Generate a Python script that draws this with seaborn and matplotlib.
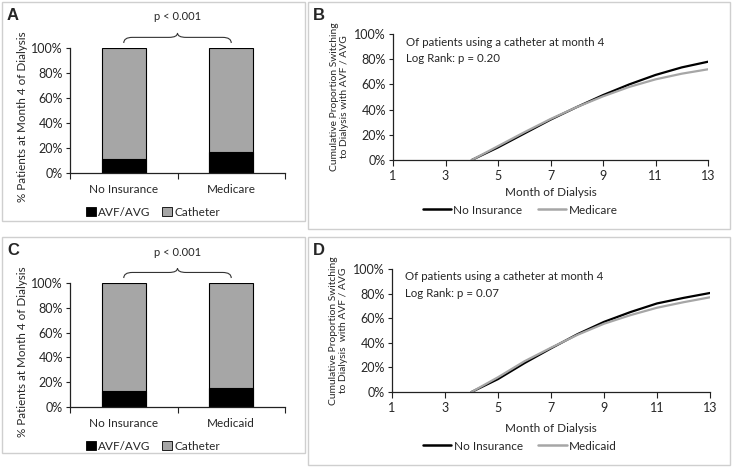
import matplotlib
matplotlib.use("Agg")
import matplotlib.pyplot as plt
import seaborn as sns
import pandas as pd
from matplotlib.patches import Rectangle, PathPatch
from matplotlib.path import Path
from matplotlib.lines import Line2D
from matplotlib.ticker import FuncFormatter

# ---------------- data ----------------
bar_groups_A = ["No Insurance", "Medicare"]
avf_A = [11.5, 17.0]
bar_groups_C = ["No Insurance", "Medicaid"]
avf_C = [13.0, 15.5]

months = [4, 5, 6, 7, 8, 9, 10, 11, 12, 13]
B_no_ins = [0, 10, 21, 32, 42, 51.5, 60, 67.5, 73.5, 78]
B_medicare = [0, 11, 22, 32.5, 42, 50.5, 58, 64, 68.5, 72]
D_no_ins = [0, 10.5, 23.5, 35.5, 47, 57, 65, 72, 76.5, 80.5]
D_medicaid = [0, 12, 25, 36, 46.5, 55.5, 62.5, 68.5, 73, 77]

p_text_bar = "p < 0.001"
B_note = "Of patients using a catheter at month 4\nLog Rank: p = 0.20"
D_note = "Of patients using a catheter at month 4\nLog Rank: p = 0.07"
B_ylabel = "Cumulative Proportion Switching\nto Dialysis with AVF / AVG"
D_ylabel = "Cumulative Proportion Switching\nto Dialysis  with AVF / AVG"

# ---------------- style ----------------
sns.set_theme(style="white")
plt.rcParams['font.family'] = ['Lato', 'DejaVu Sans']
FS = 8.5
TICK_FS = 9
GRAY = "#a6a6a6"
AX_COL = "#222222"

W, H = 733, 467
fig = plt.figure(figsize=(W / 100, H / 100), dpi=100)


def fx(x):
    return x / W


def fy(y):
    return 1 - y / H


def ax_px(l, t, r, b):
    return fig.add_axes([l / W, 1 - b / H, (r - l) / W, (b - t) / H])


def panel_box(l, t, r, b, letter):
    fig.patches.append(Rectangle((fx(l), fy(b)), fx(r - l), (b - t) / H,
                                 transform=fig.transFigure, fill=False,
                                 edgecolor="#cfcfcf", linewidth=1.0))
    fig.text(fx(l + 5), fy(t + 13), letter, fontsize=12, fontweight="bold",
             ha="left", va="center", family="Liberation Sans")


pct = FuncFormatter(lambda v, p: f"{int(v)}%")


def style_axes(ax):
    for s in ["top", "right"]:
        ax.spines[s].set_visible(False)
    for s in ["left", "bottom"]:
        ax.spines[s].set_color(AX_COL)
        ax.spines[s].set_linewidth(0.9)
    ax.set_ylim(0, 100)
    ax.set_yticks(range(0, 101, 20))
    ax.yaxis.set_major_formatter(pct)
    ax.tick_params(axis="y", direction="out", length=3, width=0.8,
                   color=AX_COL, labelsize=TICK_FS, pad=2, left=True)


def bar_panel(l, t, r, b, groups, avf, legend_y):
    ax = ax_px(l, t, r, b)
    df = pd.DataFrame({"group": groups, "avf": avf, "total": [100] * len(groups)})
    sns.barplot(data=df, x="group", y="total", color=GRAY, width=0.41,
                edgecolor="black", linewidth=0.8, ax=ax, saturation=1)
    sns.barplot(data=df, x="group", y="avf", color="black", width=0.41,
                edgecolor="black", linewidth=0.8, ax=ax, saturation=1)
    style_axes(ax)
    ax.set_xlim(-0.5, 1.5)
    ax.set_xlabel("")
    ax.set_ylabel("% Patients at Month 4 of Dialysis", fontsize=8.4, labelpad=4)
    ax.yaxis.set_label_coords(-0.195, 0.45)
    ax.tick_params(axis="x", which="major", length=0, labelsize=FS, pad=8)
    ax.set_xticks([-0.5, 0.5, 1.5], minor=True)
    ax.tick_params(axis="x", which="minor", direction="out", length=4,
                   width=0.8, color=AX_COL, bottom=True)
    # curly brace
    y0, ym, yp = 104, 108.5, 112
    verts = [(0, y0), (0, ym), (0.08, ym),
             (0.42, ym), (0.5, ym), (0.5, yp),
             (0.5, ym), (0.58, ym),
             (0.92, ym), (1, ym), (1, y0)]
    codes = [Path.MOVETO, Path.CURVE3, Path.CURVE3,
             Path.LINETO, Path.CURVE3, Path.CURVE3,
             Path.CURVE3, Path.CURVE3,
             Path.LINETO, Path.CURVE3, Path.CURVE3]
    ax.add_patch(PathPatch(Path(verts, codes), fill=False, edgecolor="#333333",
                           linewidth=0.8, clip_on=False))
    ax.text(0.5, 125, p_text_bar, ha="center", va="center", fontsize=8)
    handles = [Rectangle((0, 0), 1, 1, facecolor="black", edgecolor="black", linewidth=0.6),
               Rectangle((0, 0), 1, 1, facecolor=GRAY, edgecolor="black", linewidth=0.6)]
    fig.legend(handles, ["AVF/AVG", "Catheter"], loc="center",
               bbox_to_anchor=(fx(153), fy(legend_y)), ncol=2, frameon=False,
               fontsize=FS, handlelength=0.85, handleheight=0.85,
               handletextpad=0.15, columnspacing=1.0, borderpad=0)
    return ax


def line_panel(l, t, r, b, s1, s2, name2, note, ylabel, xlabel_y, legend_y):
    ax = ax_px(l, t, r, b)
    df = pd.DataFrame({
        "month": months + months,
        "value": s1 + s2,
        "group": ["No Insurance"] * len(months) + [name2] * len(months),
    })
    sns.lineplot(data=df, x="month", y="value", hue="group",
                 palette={"No Insurance": "black", name2: GRAY},
                 linewidth=1.6, ax=ax, legend=False)
    style_axes(ax)
    ax.set_xlim(1, 13)
    ax.set_xticks(range(1, 14, 2))
    ax.tick_params(axis="x", direction="out", length=4, width=0.8,
                   color=AX_COL, labelsize=TICK_FS, pad=3, bottom=True)
    ax.set_xlabel("")
    ax.set_ylabel(ylabel, fontsize=7.4, labelpad=4, linespacing=1.15)
    fig.text((l + r) / 2 / W, fy(xlabel_y), "Month of Dialysis", ha="center",
             va="center", fontsize=FS)
    ax.text(0.04, 0.98, note, transform=ax.transAxes, ha="left", va="top",
            fontsize=8.3, linespacing=1.6)
    handles = [Line2D([], [], color="black", linewidth=1.8),
               Line2D([], [], color=GRAY, linewidth=1.8)]
    fig.legend(handles, ["No Insurance", name2], loc="center",
               bbox_to_anchor=(fx(520), fy(legend_y)), ncol=2, frameon=False,
               fontsize=FS, handlelength=2.4, handletextpad=0.2,
               columnspacing=1.3, borderpad=0)
    return ax


panel_box(2, 2, 305, 221, "A")
panel_box(308, 2, 730, 229, "B")
panel_box(2, 237, 305, 453, "C")
panel_box(308, 237, 730, 465, "D")

bar_panel(70, 48, 285, 173, bar_groups_A, avf_A, 212)
bar_panel(70, 283, 285, 407, bar_groups_C, avf_C, 446)
line_panel(393, 34, 708, 160, B_no_ins, B_medicare, "Medicare", B_note, B_ylabel, 192, 210)
line_panel(392, 269, 710, 392, D_no_ins, D_medicaid, "Medicaid", D_note, D_ylabel, 428, 446)

fig.savefig("out.png", dpi=100)
